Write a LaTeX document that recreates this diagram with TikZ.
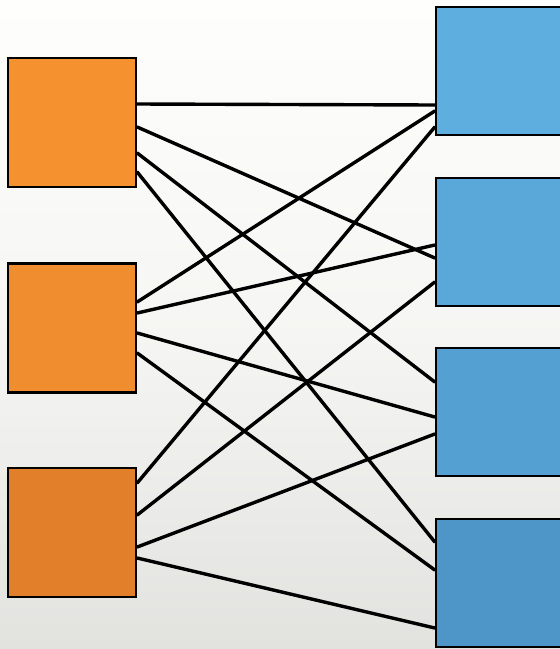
\documentclass[tikz,border=0pt]{standalone}
\usepackage{tikz}
\definecolor{bgtop}{RGB}{254,254,252}
\definecolor{bgbot}{RGB}{226,227,223}
\definecolor{ortop}{RGB}{245,146,47}
\definecolor{orbot}{RGB}{226,127,42}
\definecolor{bltop}{RGB}{94,174,224}
\definecolor{blbot}{RGB}{78,150,200}

\begin{document}
\begin{tikzpicture}[x=1pt, y=-1pt,
    box/.style={draw, line width=2.4pt, minimum width=128pt, inner sep=0pt},
    sbox/.style={box, minimum height=129pt},
    rbox/.style={box, minimum height=128pt},
    wire/.style={line width=3.4pt, line cap=round}]
                % Background
                \useasboundingbox (0,0) rectangle (560,649);
                \clip (0,0) rectangle (560,649);
                \shade[top color=bgtop, bottom color=bgbot, middle color=bgtop!70!bgbot] (0,0) rectangle (560,649);
                
                % Senders
                \node[sbox, fill=ortop] (o1) at (72,122.5) {};
                \node[sbox, fill=ortop!75!orbot] (o2) at (72,328) {};
                \node[sbox, fill=orbot] (o3) at (72,532.5) {};
                
                % Receivers
                \node[rbox, fill=bltop] (b1) at (500,71) {};
                \node[rbox, fill=bltop!75!blbot] (b2) at (500,242) {};
                \node[rbox, fill=bltop!40!blbot] (b3) at (500,412) {};
                \node[rbox, fill=blbot] (b4) at (500,583) {};
                
                % Links from o1
                \draw[wire] ([yshift=18.5pt]o1.east) -- ([yshift=-34pt]b1.west);
                \draw[wire] ([yshift=-4.5pt]o1.east) -- ([yshift=-16pt]b2.west);
                \draw[wire] ([yshift=-30.5pt]o1.east) -- ([yshift=30pt]b3.west);
                \draw[wire] ([yshift=-49.5pt]o1.east) -- ([yshift=41pt]b4.west);
                
                % Links from o2
                \draw[wire] ([yshift=26pt]o2.east) -- ([yshift=-40pt]b1.west);
                \draw[wire] ([yshift=15pt]o2.east) -- ([yshift=-3pt]b2.west);
                \draw[wire] ([yshift=-5pt]o2.east) -- ([yshift=-5pt]b3.west);
                \draw[wire] ([yshift=-25pt]o2.east) -- ([yshift=13pt]b4.west);
                
                % Links from o3
                \draw[wire] ([yshift=49.5pt]o3.east) -- ([yshift=-56pt]b1.west);
                \draw[wire] ([yshift=17.5pt]o3.east) -- ([yshift=-40pt]b2.west);
                \draw[wire] ([yshift=-14.5pt]o3.east) -- ([yshift=-22pt]b3.west);
                \draw[wire] ([yshift=-25.5pt]o3.east) -- ([yshift=-45pt]b4.west);
            \end{tikzpicture}
\end{document}
